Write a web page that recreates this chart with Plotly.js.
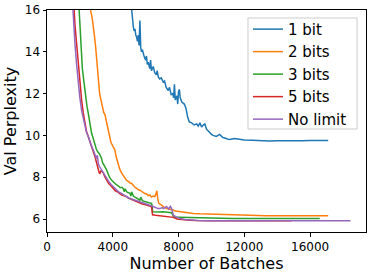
<!DOCTYPE html>
<html>
<head>
<meta charset="utf-8">
<script src="https://cdn.plot.ly/plotly-3.0.1.min.js"></script>
<style>html,body{margin:0;padding:0;background:#fff;}#chart{width:374px;height:275px;}</style>
</head>
<body>
<div id="chart"></div>
<script>
const seriesNames = ["1 bit", "2 bits", "3 bits", "5 bits", "No limit"];
const seriesColors = ["#1f77b4", "#ff7f0e", "#2ca02c", "#d62728", "#9467bd"];

const batches1 = [4700,5000,5150,5200,5250,5300,5350,5400,5450,5500,5550,5600,5650,5700,5750,5800,5850,5900,6000,6050,6100,6160,6250,6300,6350,6460,6550,6650,6700,6770,6850,6950,7070,7150,7250,7375,7450,7550,7650,7700,7750,7800,7900,7950,8000,8050,8100,8200,8350,8450,8550,8650,8800,8950,9100,9200,9300,9400,9500,9600,9700,9800,9900,10000,10100,10300,10500,10700,10900,11100,11400,11700,12000,12500,13000,13500,14000,14500,15000,15500,16000,16500,17100];
const ppl1 = [18.5,16.6,16.0,15.4,15.2,15.0,15.1,14.8,14.7,14.5,14.8,14.3,15.5,14.2,14.0,14.1,13.9,13.8,13.6,13.8,13.4,13.5,13.2,13.6,13.1,13.3,13.0,12.9,13.1,12.8,12.7,12.75,12.55,12.6,12.3,12.15,12.3,11.95,12.0,11.8,12.45,11.7,11.9,11.5,12.1,12.2,11.8,11.6,11.5,11.3,10.9,10.65,10.6,10.5,10.55,10.45,10.6,10.4,10.5,10.55,10.3,10.2,10.1,10.05,10.0,9.95,10.05,9.9,9.85,9.8,9.85,9.82,9.78,9.77,9.74,9.73,9.75,9.74,9.76,9.75,9.76,9.75,9.76];

const batches2 = [2500,2650,2750,2815,2880,2950,3000,3050,3100,3150,3200,3280,3320,3380,3450,3525,3600,3680,3730,3800,3880,3930,4000,4080,4130,4200,4280,4335,4420,4540,4650,4750,4840,4950,5050,5150,5250,5350,5450,5550,5650,5750,5855,5950,6050,6150,6260,6350,6450,6560,6620,6680,6730,6800,6900,7000,7100,7270,7400,7500,7680,7800,8080,8400,8890,9300,9700,10500,11320,12300,13350,15000,17100];
const ppl2 = [17.5,16.0,15.6,15.3,14.8,14.3,13.8,13.1,12.6,12.4,12.0,11.7,11.55,11.3,11.1,11.0,10.7,10.5,10.35,10.0,9.7,9.6,9.5,9.35,9.3,9.0,8.75,8.65,8.4,8.2,8.05,7.95,7.85,7.8,7.72,7.7,7.6,7.52,7.47,7.4,7.38,7.32,7.3,7.22,7.2,7.12,7.15,7.05,7.1,7.07,7.2,7.35,7.0,6.75,6.7,6.62,6.58,6.5,6.48,6.45,6.43,6.38,6.35,6.3,6.27,6.25,6.24,6.21,6.19,6.17,6.16,6.16,6.16];

const batches3 = [1850,1945,2000,2045,2100,2150,2210,2280,2330,2370,2430,2510,2580,2650,2715,2800,2860,2920,3000,3060,3120,3200,3260,3320,3380,3425,3500,3560,3625,3700,3800,3930,4050,4150,4235,4350,4450,4550,4640,4700,4750,4850,4950,5045,5100,5150,5250,5350,5450,5550,5650,5700,5800,5900,6060,6200,6360,6400,6420,6600,6800,7070,7300,7580,7650,7700,8000,8490,9300,10300,11320,13000,15000,16590];
const ppl3 = [17.5,16.0,15.0,14.25,13.5,13.2,12.8,12.3,12.0,11.85,11.4,11.05,10.6,10.4,10.1,9.85,9.7,9.6,9.35,9.25,9.15,9.1,9.0,8.9,8.7,8.65,8.55,8.45,8.35,8.2,8.0,7.85,7.75,7.7,7.63,7.58,7.5,7.52,7.45,7.3,7.45,7.3,7.25,7.23,7.1,7.3,7.1,7.05,7.0,6.95,6.9,7.05,6.88,6.85,6.83,6.78,6.75,6.6,6.35,6.36,6.34,6.35,6.32,6.3,6.2,6.1,6.09,6.08,6.05,6.04,6.03,6.03,6.02,6.02];

const batches5 = [1550,1640,1700,1800,1880,1965,2030,2105,2200,2310,2400,2510,2600,2715,2800,2920,3000,3060,3120,3180,3220,3280,3350,3425,3500,3625,3750,3900,4030,4150,4250,4350,4440,4550,4650,4750,4840,4950,5100,5250,5450,5600,5800,6060,6200,6360,6400,6420,6600,6800,7070,7300,7680,7900,8100,8490,9000,9300,10000,11320,13000,14870];
const ppl5 = [17.5,16.0,15.3,14.4,13.6,12.8,12.2,11.7,11.1,10.57,10.2,9.95,9.7,9.46,9.25,8.98,8.75,8.5,8.35,8.2,8.18,8.3,8.28,8.2,8.05,7.86,7.7,7.58,7.47,7.35,7.32,7.25,7.23,7.15,7.12,7.1,7.07,7.0,6.95,6.9,6.83,6.78,6.72,6.67,6.62,6.59,6.3,6.2,6.18,6.16,6.14,6.12,6.08,6.0,5.98,5.95,5.93,5.92,5.92,5.92,5.92,5.92];

const batchesNL = [1470,1560,1620,1700,1800,1905,2000,2105,2200,2310,2400,2510,2600,2700,2815,2900,3000,3060,3120,3200,3320,3400,3500,3625,3750,3900,4030,4150,4250,4350,4440,4550,4650,4750,4840,4950,5100,5250,5450,5600,5750,5900,6060,6200,6300,6460,6600,6750,6870,7000,7100,7270,7400,7500,7580,7620,7680,7850,8080,8400,8690,9200,9700,11000,13350,16000,18460];
const pplNL = [17.5,16.0,15.2,14.4,13.4,12.5,11.8,11.2,10.8,10.4,10.15,9.95,9.7,9.5,9.3,9.1,8.9,9.05,8.65,8.5,8.35,8.2,8.1,7.95,7.8,7.65,7.55,7.45,7.35,7.3,7.26,7.2,7.15,7.1,7.07,7.02,6.97,6.93,6.9,6.85,6.82,6.78,6.75,6.7,6.65,6.6,6.55,6.5,6.5,6.55,6.5,6.6,6.48,6.6,6.5,6.35,6.19,6.1,6.03,5.98,5.95,5.93,5.92,5.92,5.92,5.92,5.92];

const xTicks = [0, 4000, 8000, 12000, 16000];
const xTickLabels = ["0", "4000", "8000", "12000", "16000"];
const yTicks = [6, 8, 10, 12, 14, 16];
const yTickLabels = ["6", "8", "10", "12", "14", "16"];

const xs = [batches1, batches2, batches3, batches5, batchesNL];
const ys = [ppl1, ppl2, ppl3, ppl5, pplNL];

const traces = seriesNames.map((n, i) => ({
  x: xs[i], y: ys[i], name: n, type: "scatter", mode: "lines",
  line: {color: seriesColors[i], width: 1.5}
}));

const font = "DejaVu Sans, sans-serif";
const layout = {
  width: 374, height: 275,
  margin: {l: 47, r: 8, t: 10, b: 43},
  paper_bgcolor: "#fff", plot_bgcolor: "#fff",
  font: {family: font, color: "#000"},
  showlegend: true,
  legend: {
    x: 0.63, y: 0.987, xanchor: "left", yanchor: "top",
    bgcolor: "rgba(0,0,0,0)", borderwidth: 0,
    font: {family: font, size: 15, color: "#000"},
    tracegroupgap: 0
  },
  shapes: [{
    type: "rect", xref: "paper", yref: "paper",
    x0: 0.630, x1: 0.972, y0: 0.464, y1: 0.964,
    line: {color: "#cccccc", width: 1}, fillcolor: "rgba(255,255,255,0.8)", layer: "above"
  }],
  xaxis: {
    range: [0, 19400], tickmode: "array", tickvals: xTicks, ticktext: xTickLabels,
    showgrid: false, zeroline: false, showline: true, mirror: true,
    linecolor: "#000", linewidth: 1, ticks: "outside", ticklen: 3.5, tickcolor: "#000",
    tickfont: {family: font, size: 12, color: "#000"},
    title: {text: "Number of Batches", font: {family: font, size: 16, color: "#000"}, standoff: 4}
  },
  yaxis: {
    range: [5.38, 16], tickmode: "array", tickvals: yTicks, ticktext: yTickLabels,
    showgrid: false, zeroline: false, showline: true, mirror: true,
    linecolor: "#000", linewidth: 1, ticks: "outside", ticklen: 3.5, tickcolor: "#000",
    tickfont: {family: font, size: 12, color: "#000"},
    title: {text: "Val Perplexity", font: {family: font, size: 16, color: "#000"}, standoff: 4}
  }
};

Plotly.newPlot("chart", traces, layout, {displayModeBar: false, staticPlot: true});
</script>
</body>
</html>
